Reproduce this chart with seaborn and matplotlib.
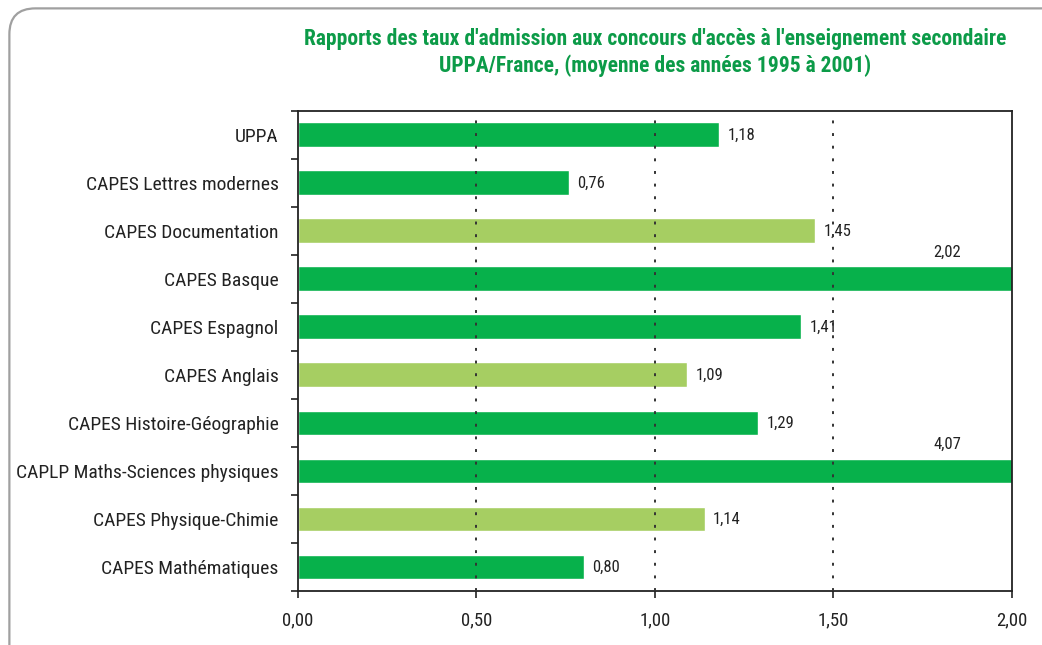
import matplotlib
matplotlib.use("Agg")
import matplotlib.pyplot as plt
import seaborn as sns
import pandas as pd
from matplotlib.patches import FancyBboxPatch
from matplotlib.ticker import FixedLocator, NullFormatter

# Data
categories = ['UPPA', 'CAPES Lettres modernes', 'CAPES Documentation', 'CAPES Basque',
              'CAPES Espagnol', 'CAPES Anglais', 'CAPES Histoire-Géographie',
              'CAPLP Maths-Sciences physiques', 'CAPES Physique-Chimie', 'CAPES Mathématiques']
ratios = [1.18, 0.76, 1.45, 2.02, 1.41, 1.09, 1.29, 4.07, 1.14, 0.80]
groups = ['fonce', 'fonce', 'clair', 'fonce', 'fonce', 'clair', 'fonce', 'fonce', 'clair', 'fonce']
x_ticks = [0.0, 0.5, 1.0, 1.5, 2.0]

dark_green = '#07B14B'
light_green = '#A6CE62'
title_green = '#0C9B48'

sns.set_style('white')
plt.rcParams['font.family'] = ['Liberation Sans Narrow', 'Roboto Condensed', 'Liberation Sans', 'DejaVu Sans']

df = pd.DataFrame({'Categorie': categories, 'Rapport': ratios, 'Groupe': groups})

fig = plt.figure(figsize=(10.42, 6.45), dpi=100)
ax = fig.add_axes([0.286, 0.0837, 0.685, 0.7443])

# rounded frame around the chart
frame = FancyBboxPatch((0.009, -0.05), 1.2, 1.037, boxstyle='round,pad=0,rounding_size=0.025',
                       transform=fig.transFigure, facecolor='none', edgecolor='#A0A0A0',
                       linewidth=1.6, mutation_aspect=1.6, clip_on=False)
fig.patches.append(frame)

sns.barplot(data=df, x='Rapport', y='Categorie', hue='Groupe',
            palette={'fonce': dark_green, 'clair': light_green},
            dodge=False, width=0.52, legend=False, ax=ax, zorder=2, saturation=1)

ax.set_xlim(0, 2)
ax.set_ylim(9.5, -0.5)
ax.set_xticks(x_ticks)
ax.set_xticklabels([f'{t:.2f}'.replace('.', ',') for t in x_ticks], fontsize=13.5)
ax.set_xlabel('')
ax.set_ylabel('')
ax.tick_params(axis='y', which='major', length=0, labelsize=14, pad=14, labelcolor='#222222')
ax.yaxis.set_minor_locator(FixedLocator([i - 0.5 for i in range(len(categories) + 1)]))
ax.yaxis.set_minor_formatter(NullFormatter())
ax.tick_params(axis='y', which='minor', length=5, width=1.2, color='#222222', direction='out', left=True)
ax.tick_params(axis='x', which='major', length=5, width=1.2, color='#222222', direction='out',
               bottom=True, pad=10, labelcolor='#222222')

for sp in ax.spines.values():
    sp.set_visible(True)
    sp.set_color('#222222')
    sp.set_linewidth(1.3)

for xv in x_ticks[1:-1]:
    ax.axvline(xv, color='#333333', linestyle=(0, (1.5, 5)), linewidth=1.4, zorder=3)

for i, v in enumerate(ratios):
    label = f'{v:.2f}'.replace('.', ',')
    if v <= 2:
        ax.annotate(label, (v, i), xytext=(6, 0), textcoords='offset points',
                    va='center', ha='left', fontsize=12, color='#222222', zorder=1)
    else:
        ax.text(1.82, i - 0.56, label, va='center', ha='center', fontsize=12, color='#222222')

ax.set_title("Rapports des taux d'admission aux concours d'accès à l'enseignement secondaire\n"
             "UPPA/France, (moyenne des années 1995 à 2001)",
             color=title_green, fontsize=15.5, fontweight='bold', pad=28, linespacing=1.25)

fig.savefig('out.png', dpi=100)
